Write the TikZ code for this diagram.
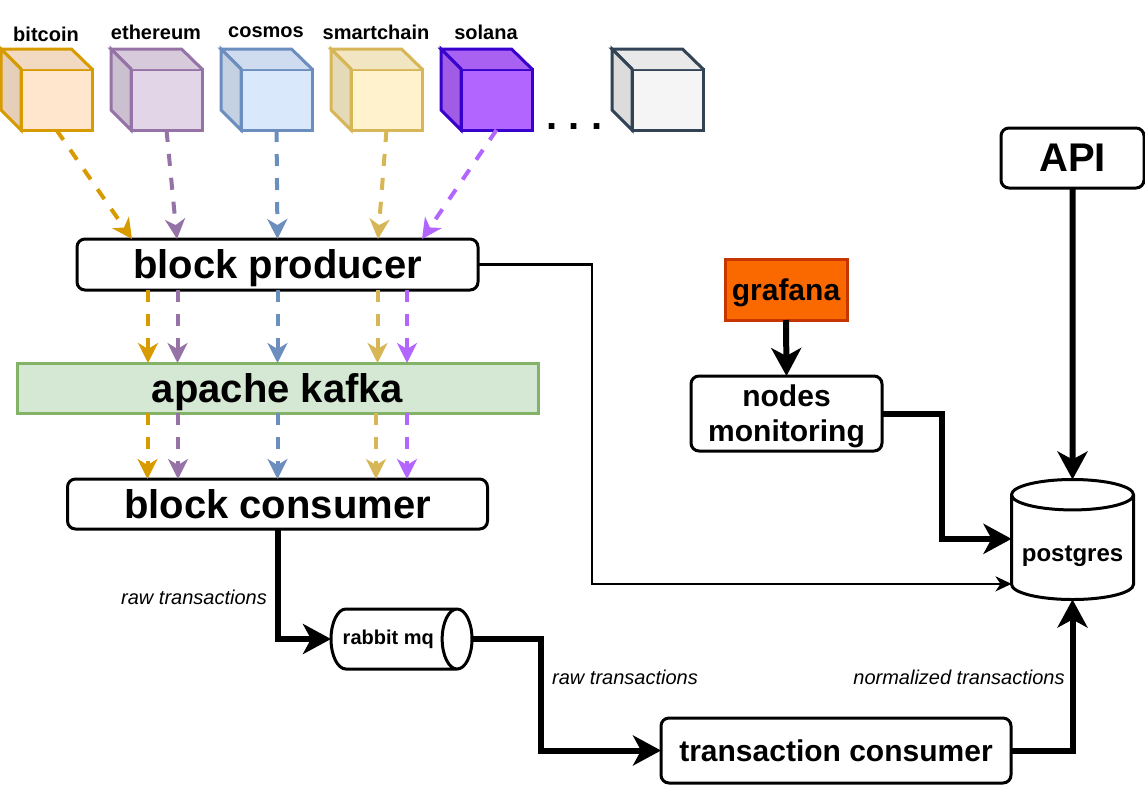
\documentclass[tikz,border=0pt]{standalone}
\usepackage{fontspec}
\setmainfont{Liberation Sans}
\frenchspacing
\usetikzlibrary{arrows.meta,shapes.geometric}
\definecolor{btcdraw}{HTML}{D79B00}\definecolor{btcfill}{HTML}{FFE6CC}
\definecolor{ethdraw}{HTML}{9673A6}\definecolor{ethfill}{HTML}{E1D5E7}
\definecolor{atomdraw}{HTML}{6C8EBF}\definecolor{atomfill}{HTML}{DAE8FC}
\definecolor{bscdraw}{HTML}{D6B656}\definecolor{bscfill}{HTML}{FFF2CC}
\definecolor{soldraw}{HTML}{3700CC}\definecolor{solfill}{HTML}{B266FF}
\definecolor{etcdraw}{HTML}{314354}\definecolor{etcfill}{HTML}{F5F5F5}
\definecolor{kafkadraw}{HTML}{82B366}\definecolor{kafkafill}{HTML}{D5E8D4}
\definecolor{grafdraw}{HTML}{C73500}\definecolor{graffill}{HTML}{FA6800}
\newcommand{\chaincube}[4]{%
  \node[cubeface,draw=#3,fill=#4] (#1) at (#2,99.5) {};
  \draw[cubeside,draw=#3,fill=#4!95!black] (#1.north west) -- +(-20,-20) -- +(50.5,-20) -- (#1.north east);
  \draw[cubeside,draw=#3,fill=#4!90!black] (#1.north west) -- +(-20,-20) -- +(-20,41) -- (#1.south west) -- cycle;
}
\begin{document}
\begin{tikzpicture}
[x=1pt,y=-1pt,font=\bfseries,
box/.style={rectangle,rounded corners=8pt,draw=black,line width=3pt,fill=white,inner sep=0pt,outer sep=0pt,align=center},
huge/.style={font=\fontsize{40}{46}\bfseries\selectfont,text depth=0pt},
mid/.style={font=\fontsize{30}{35}\bfseries\selectfont,text depth=0pt},
chain/.style={font=\fontsize{20}{24}\bfseries\selectfont},
note/.style={font=\fontsize{20}{24}\itshape\selectfont},
cubeface/.style={rectangle,line width=3pt,minimum width=71pt,minimum height=61pt,inner sep=0pt,outer sep=0pt},
cubeside/.style={line width=3pt,line join=miter},
feed/.style={line width=4pt,dash pattern=on 12pt off 12pt,-{Stealth[length=20pt,width=20pt,inset=6pt]}},
thick arrow/.style={line width=6pt,-{Stealth[length=28pt,width=30pt,inset=8pt]}},
thin arrow/.style={line width=2.5pt,-{Stealth[length=16pt,width=15pt,inset=5pt]}},
store/.style={cylinder,anchor=shape center,draw=black,fill=white,line width=3pt,inner sep=0pt,outer sep=0pt}]
\useasboundingbox (0,0) rectangle (1145,785);
% chains
\chaincube{bitcoin}{56.5}{btcdraw}{btcfill}
\chaincube{ethereum}{166.5}{ethdraw}{ethfill}
\chaincube{cosmos}{276.5}{atomdraw}{atomfill}
\chaincube{smartchain}{386.5}{bscdraw}{bscfill}
\chaincube{solana}{496.5}{soldraw}{solfill}
\chaincube{other}{667.5}{etcdraw}{etcfill}
\node[chain] (bitcoinname) at (46,34) {bitcoin};
\node[chain] (ethereumname) at (156,32) {ethereum};
\node[chain] (cosmosname) at (266,32) {cosmos};
\node[chain] (smartchainname) at (376,32) {smartchain};
\node[chain] (solananame) at (486,32) {solana};
\node[font=\fontsize{40}{46}\bfseries\selectfont] (dots) at (574.5,127) {. . .};
% main blocks
\node[box,huge,minimum width=401pt,minimum height=51pt] (producer) at (277.5,264.5) {block producer};
\node[rectangle,huge,draw=kafkadraw,fill=kafkafill,line width=3pt,minimum width=521pt,minimum height=50pt,inner sep=0pt,outer sep=0pt] (kafka) at (277.5,388) {apache kafka};
\node[box,huge,minimum width=420pt,minimum height=50pt] (consumer) at (277.5,504) {block consumer};
\node[store,aspect=1.6,inner xsep=-8pt,minimum width=60pt,minimum height=141pt,font=\fontsize{20}{24}\bfseries\selectfont] (rabbit) at (401.5,639) {rabbit mq\hspace*{10pt}};
\node[box,mid,minimum width=350pt,minimum height=65pt] (transaction) at (836,750.5) {transaction consumer};
\node[store,shape border rotate=90,aspect=.3,minimum width=122pt,minimum height=120pt,text height=33pt,font=\fontsize{24}{28}\bfseries\selectfont] (postgres) at (1072.5,539.5) {postgres};
\node[box,huge,minimum width=143pt,minimum height=60pt] (api) at (1072.5,158) {API};
\node[rectangle,mid,draw=grafdraw,fill=graffill,line width=3pt,minimum width=122pt,minimum height=61pt,inner sep=0pt,outer sep=0pt] (grafana) at (786,289.5) {grafana};
\node[box,mid,minimum width=191pt,minimum height=75pt] (monitoring) at (786.5,413.5) {nodes\\monitoring};
\node[note] (rawleft) at (194,597) {raw transactions};
\node[note] (rawright) at (625,677) {raw transactions};
\node[note] (normalized) at (959,677) {normalized transactions};
% chains to producer
\draw[feed,draw=btcdraw] (bitcoin.south) -- ([xshift=-145.5]producer.north);
\draw[feed,draw=ethdraw] (ethereum.south) -- ([xshift=-100.5]producer.north);
\draw[feed,draw=atomdraw] (cosmos.south) -- ([xshift=0]producer.north);
\draw[feed,draw=bscdraw] (smartchain.south) -- ([xshift=100.5]producer.north);
\draw[feed,draw=solfill] (solana.south) -- ([xshift=144.5]producer.north);
% producer to kafka
\draw[feed,draw=btcdraw] ([xshift=-129.5]producer.south) -- ([xshift=-129.5]kafka.north);
\draw[feed,draw=ethdraw] ([xshift=-100]producer.south) -- ([xshift=-100]kafka.north);
\draw[feed,draw=atomdraw] (producer.south) -- (kafka.north);
\draw[feed,draw=bscdraw] ([xshift=100]producer.south) -- ([xshift=100]kafka.north);
\draw[feed,draw=solfill] ([xshift=129.5]producer.south) -- ([xshift=129.5]kafka.north);
% kafka to consumer
\draw[feed,draw=btcdraw] ([xshift=-130]kafka.south) -- ([xshift=-130]consumer.north);
\draw[feed,draw=ethdraw] ([xshift=-99.5]kafka.south) -- ([xshift=-99.5]consumer.north);
\draw[feed,draw=atomdraw] (kafka.south) -- (consumer.north);
\draw[feed,draw=bscdraw] ([xshift=98.5]kafka.south) -- ([xshift=98.5]consumer.north);
\draw[feed,draw=solfill] ([xshift=129.5]kafka.south) -- ([xshift=129.5]consumer.north);
% pipeline
\draw[thin arrow] (producer.east) -- ++(114,0) |- ([yshift=-36]postgres.west);
\draw[thick arrow] (consumer.south) |- (rabbit.west);
\draw[thick arrow] (rabbit.east) -- ++(69,0) |- (transaction.west);
\draw[thick arrow] (transaction.east) -| (postgres.south);
\draw[thick arrow] (monitoring.east) -- ++(60,0) |- ([yshift=9]postgres.west);
\draw[thick arrow] (grafana.south) -- (monitoring.north);
\draw[thick arrow] (api.south) -- (postgres.north);
\end{tikzpicture}
\end{document}
